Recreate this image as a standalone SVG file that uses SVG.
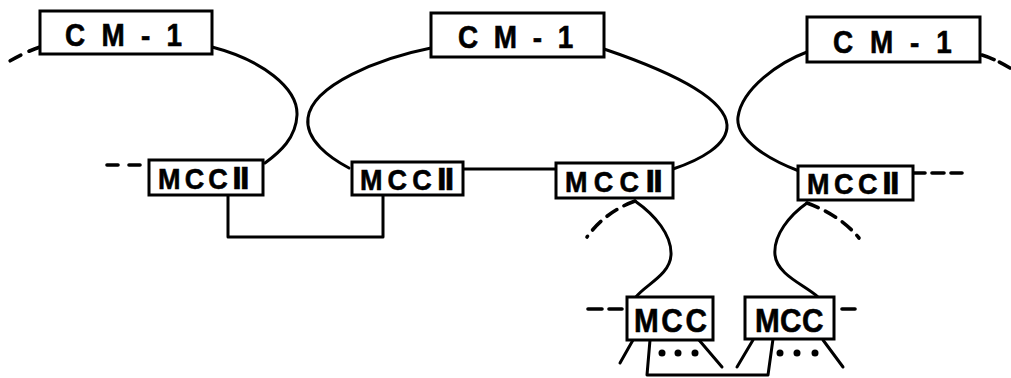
<svg xmlns="http://www.w3.org/2000/svg" width="1011" height="378" viewBox="0 0 1011 378">
  <style>
    .box { fill: #fff; stroke: #000; stroke-width: 3; }
    .wire { fill: none; stroke: #000; stroke-width: 3; stroke-linecap: round; stroke-linejoin: round; }
    .dash { fill: none; stroke: #000; stroke-width: 3.6; stroke-linecap: round; }
    .lbl { font-family: "Liberation Sans", "DejaVu Sans", "Noto Sans CJK JP", sans-serif; font-weight: bold; fill: #000; stroke: #000; stroke-width: 0.6; }
    .cm { font-size: 31px; }
    .mcc2 { font-size: 30px; }
    .mcc { font-size: 33px; }
    .dot { fill: #000; }
  </style>
  <rect width="1011" height="378" fill="#fff"/>

  <!-- links between modules -->
  <g id="connectors">
    <!-- ring loops from each CM-1 down to the MCC II units -->
    <path class="wire" d="M212,47 C262,60 298,88 297,115 C296,138 280,152 265,163"/>
    <path class="wire" d="M431,48 C380,58 312,85 308,118 C305,140 330,158 349,168"/>
    <path class="wire" d="M604,49 C660,68 725,95 727,125 C728,145 700,160 673,169"/>
    <path class="wire" d="M807,52 C780,62 742,88 738,117 C735,140 770,160 799,171"/>
    <!-- MCC II cross links -->
    <path class="wire" d="M228,195 V237 H383 V195"/>
    <path class="wire" d="M463,169 H556"/>
    <!-- branches from MCC II to MCC -->
    <path class="wire" d="M635,201 C655,215 672,235 671,255 C670,275 645,285 636,297"/>
    <path class="wire" d="M807,203 C790,215 773,235 775,255 C777,275 805,285 818,297"/>
    <!-- MCC legs and bottom link -->
    <path class="wire" d="M633,340 L620,363"/>
    <path class="wire" d="M699,340 L722,367"/>
    <path class="wire" d="M650,340 L647,375 H768 L773,339"/>
    <path class="wire" d="M753,340 L737,367"/>
    <path class="wire" d="M823,340 L843,367"/>
    <!-- continuation stubs -->
    <path class="dash" d="M40,47 Q25,52 8,62" stroke-dasharray="12 9"/>
    <path class="dash" d="M982,55 Q995,59 1010,68" stroke-dasharray="13 6"/>
    <path class="dash" d="M107,165 H140" stroke-dasharray="11 11"/>
    <path class="dash" d="M913,173 H962" stroke-dasharray="12 7"/>
    <path class="dash" d="M588,309 H622" stroke-dasharray="14 7"/>
    <path class="dash" d="M842,309 H855"/>
    <path class="dash" d="M635,201 Q605,212 587,237" stroke-dasharray="12 8"/>
    <path class="dash" d="M807,203 Q840,215 859,238" stroke-dasharray="12 8"/>
  </g>

  <!-- labels are drawn 0.9 wide for the narrow lettering -->
  <g id="cm1-left">
    <rect class="box" x="40" y="11" width="172" height="43"/>
    <text class="lbl cm" transform="translate(65,46) scale(0.9,1)" textLength="130" lengthAdjust="spacing">CM-1</text>
  </g>
  <g id="cm1-mid">
    <rect class="box" x="431" y="13" width="173" height="44"/>
    <text class="lbl cm" transform="translate(458,48) scale(0.9,1)" textLength="128" lengthAdjust="spacing">CM-1</text>
  </g>
  <g id="cm1-right">
    <rect class="box" x="807" y="17" width="173" height="45"/>
    <text class="lbl cm" transform="translate(833,53) scale(0.9,1)" textLength="132" lengthAdjust="spacing">CM-1</text>
  </g>

  <g id="mcc2-a">
    <rect class="box" x="149" y="160" width="114" height="35"/>
    <text class="lbl mcc2" transform="translate(158,189) scale(0.9,1)" textLength="102" lengthAdjust="spacing">MCCⅡ</text>
  </g>
  <g id="mcc2-b">
    <rect class="box" x="352" y="162" width="111" height="33"/>
    <text class="lbl mcc2" transform="translate(360,190) scale(0.9,1)" textLength="105" lengthAdjust="spacing">MCCⅡ</text>
  </g>
  <g id="mcc2-c">
    <rect class="box" x="556" y="163" width="117" height="35"/>
    <text class="lbl mcc2" transform="translate(565,192) scale(0.9,1)" textLength="109" lengthAdjust="spacing">MCCⅡ</text>
  </g>
  <g id="mcc2-d">
    <rect class="box" x="798" y="166" width="115" height="34"/>
    <text class="lbl mcc2" transform="translate(807,194) scale(0.9,1)" textLength="103" lengthAdjust="spacing">MCCⅡ</text>
  </g>

  <g id="mcc-a">
    <rect class="box" x="627" y="297" width="86" height="43"/>
    <text class="lbl mcc" transform="translate(634,332) scale(0.9,1)" textLength="81" lengthAdjust="spacing">MCC</text>
    <circle class="dot" cx="662" cy="353" r="3.5"/>
    <circle class="dot" cx="678" cy="353" r="3.5"/>
    <circle class="dot" cx="695" cy="353" r="3.5"/>
  </g>
  <g id="mcc-b">
    <rect class="box" x="745" y="297" width="89" height="42"/>
    <text class="lbl mcc" transform="translate(755,332) scale(0.9,1)" textLength="76" lengthAdjust="spacing">MCC</text>
    <circle class="dot" cx="780" cy="353" r="3.5"/>
    <circle class="dot" cx="797" cy="353" r="3.5"/>
    <circle class="dot" cx="815" cy="353" r="3.5"/>
  </g>
</svg>
